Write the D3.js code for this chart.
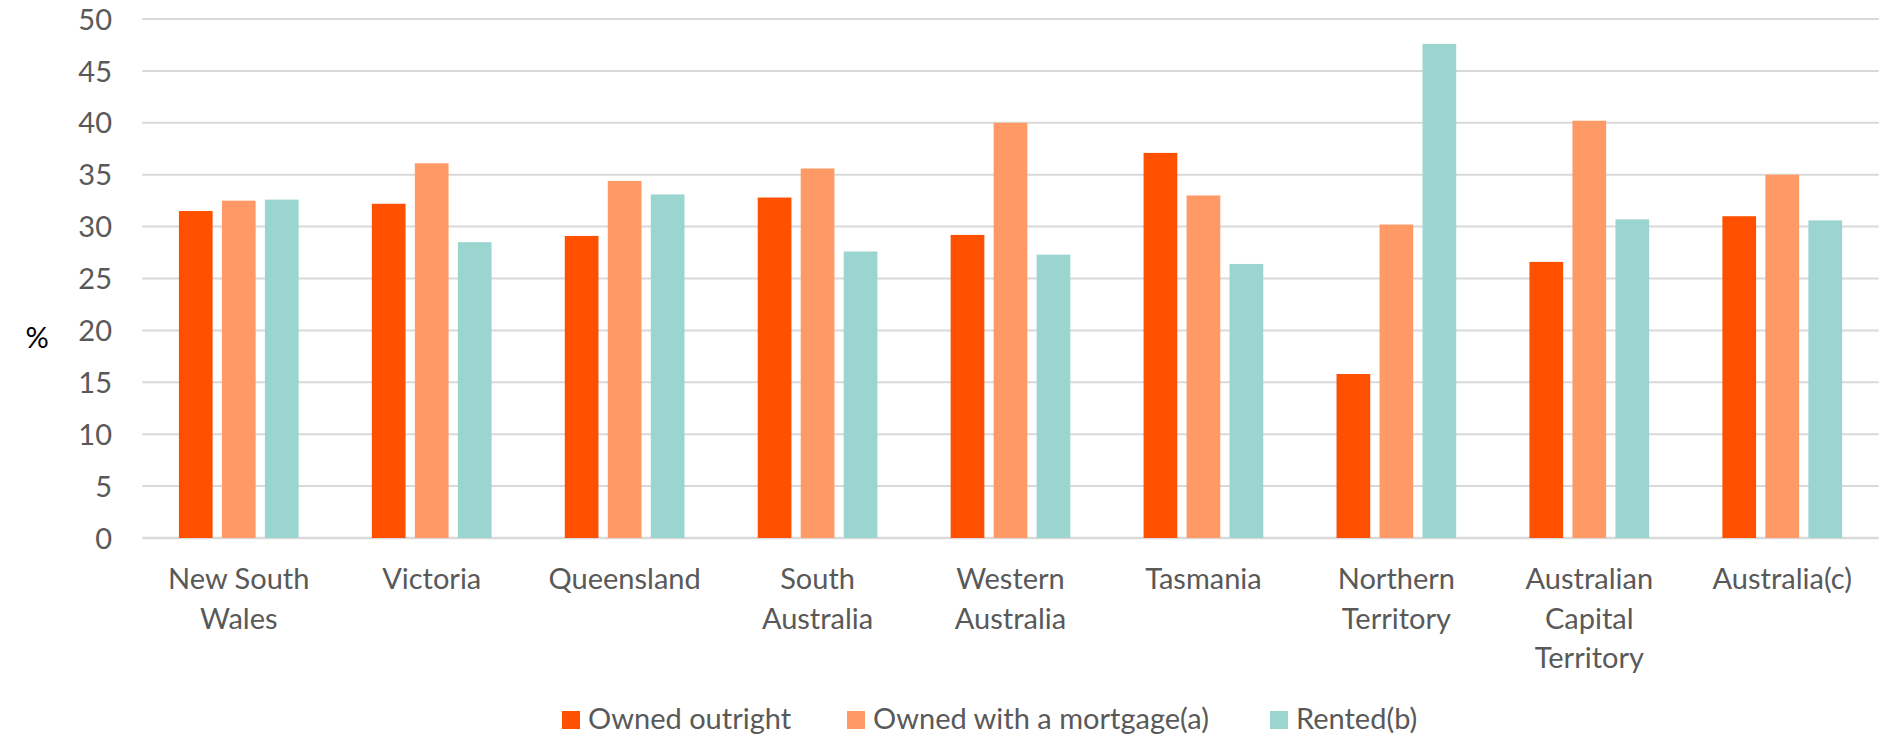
<!DOCTYPE html>
<html>
<head>
<meta charset="utf-8">
<script src="https://cdn.jsdelivr.net/npm/d3@7"></script>
<style>
  html, body { margin: 0; padding: 0; background: #fff; }
  svg text { font-family: Lato, "Open Sans", sans-serif; }
</style>
</head>
<body>
<svg id="chart" width="1882" height="737"></svg>
<script>
// Dwelling tenure by state / territory (%)
const categories = ["New South Wales", "Victoria", "Queensland", "South Australia",
  "Western Australia", "Tasmania", "Northern Territory", "Australian Capital Territory", "Australia(c)"];
const seriesNames = ["Owned outright", "Owned with a mortgage(a)", "Rented(b)"];
const ownedOutright = [31.5, 32.2, 29.1, 32.8, 29.2, 37.1, 15.8, 26.6, 31.0];
const ownedMortgage = [32.5, 36.1, 34.4, 35.6, 40.0, 33.0, 30.2, 40.2, 35.0];
const rented        = [32.6, 28.5, 33.1, 27.6, 27.3, 26.4, 47.6, 30.7, 30.6];
const yTicks = [0, 5, 10, 15, 20, 25, 30, 35, 40, 45, 50];
const colors = ["#FF5000", "#FF9966", "#9BD5CF"];

const seriesValues = [ownedOutright, ownedMortgage, rented];
const svg = d3.select("#chart");
const fontSize = "29px";

const plotLeft = 142.3, plotRight = 1878.7, plotTop = 19, plotBottom = 538;

const x0 = d3.scaleBand().domain(categories).range([plotLeft, plotRight]).paddingInner(0).paddingOuter(0);
const groupW = 119.7;
const x1 = d3.scaleBand().domain(seriesNames)
  .range([(x0.bandwidth() - groupW) / 2, (x0.bandwidth() + groupW) / 2])
  .paddingInner(0.216).paddingOuter(0);
const y = d3.scaleLinear().domain([0, 50]).range([plotBottom, plotTop]);

// gridlines
svg.append("g").selectAll("line").data(yTicks).join("line")
  .attr("x1", plotLeft).attr("x2", plotRight)
  .attr("y1", d => y(d)).attr("y2", d => y(d))
  .attr("stroke", "#D9D9D9").attr("stroke-width", d => d === 0 ? 2.5 : 2);

// y axis labels
const yAxis = d3.axisLeft(y).tickValues(yTicks).tickSize(0).tickPadding(0);
const yg = svg.append("g").attr("transform", "translate(112,0)").call(yAxis);
yg.select(".domain").remove();
yg.selectAll("text").attr("fill", "#595959").style("font-size", fontSize)
  .style("font-family", "Lato, sans-serif").attr("dy", "0.35em");

svg.append("text").attr("x", 37).attr("y", 338).attr("dy", "0.35em")
  .attr("text-anchor", "middle").attr("fill", "#000").style("font-size", fontSize).text("%");

// bars
const groups = svg.append("g").selectAll("g").data(categories).join("g")
  .attr("transform", d => `translate(${x0(d)},0)`);
groups.selectAll("rect")
  .data((c, i) => seriesNames.map((s, k) => ({ s, k, v: seriesValues[k][i] })))
  .join("rect")
  .attr("x", d => x1(d.s)).attr("width", x1.bandwidth())
  .attr("y", d => y(d.v)).attr("height", d => y(0) - y(d.v))
  .attr("fill", d => colors[d.k]);

// category labels, wrapped to the band width
const labelG = svg.append("g");
const maxW = 170;
categories.forEach(c => {
  const cx = x0(c) + x0.bandwidth() / 2;
  const t = labelG.append("text").attr("x", cx).attr("y", 589)
    .attr("text-anchor", "middle").attr("fill", "#595959").style("font-size", fontSize);
  const words = c.split(" ");
  let line = [];
  let ts = t.append("tspan").attr("x", cx).attr("dy", 0);
  words.forEach(w => {
    line.push(w);
    ts.text(line.join(" "));
    if (ts.node().getComputedTextLength() > maxW && line.length > 1) {
      line.pop();
      ts.text(line.join(" "));
      line = [w];
      ts = t.append("tspan").attr("x", cx).attr("dy", 39.5).text(w);
    }
  });
});

// legend
const legendX = [562, 847, 1270];
const lg = svg.append("g").selectAll("g").data(seriesNames).join("g")
  .attr("transform", (d, i) => `translate(${legendX[i]},711)`);
lg.append("rect").attr("width", 18).attr("height", 18).attr("fill", (d, i) => colors[i]);
lg.append("text").attr("x", 26).attr("y", 18).attr("fill", "#595959")
  .style("font-size", fontSize).text(d => d);
</script>
</body>
</html>
